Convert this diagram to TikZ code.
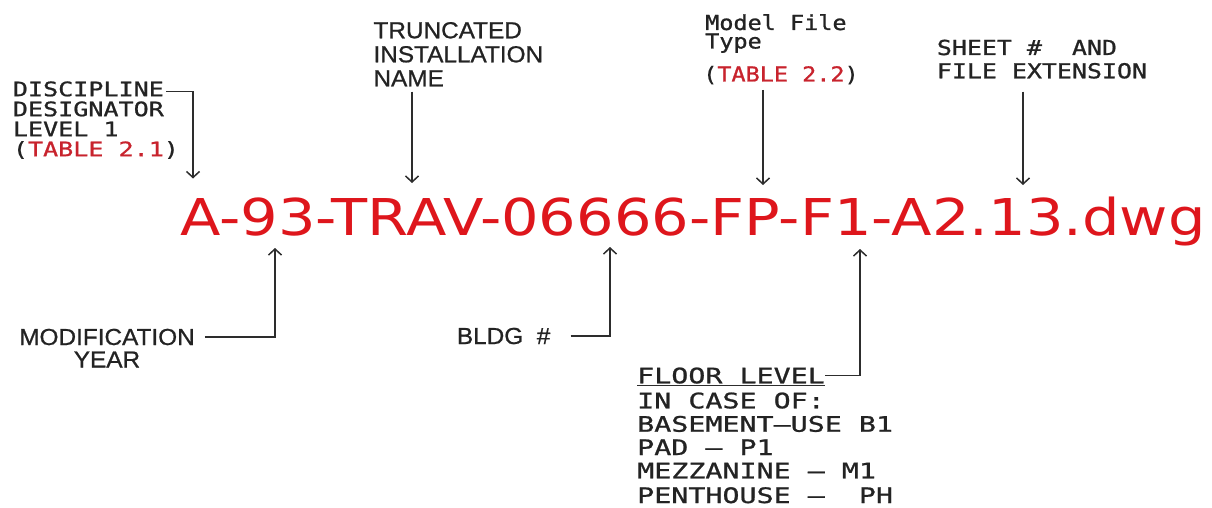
\documentclass[tikz,border=0pt]{standalone}
\usepackage{fontspec}
\usetikzlibrary{arrows.meta}
\newfontfamily\redfont{DejaVu Sans}[FakeStretch=1.164]
\newfontfamily\arialf{Liberation Sans}[FakeStretch=1.05, FakeBold=0.8]
\newfontfamily\cadA{DejaVu Sans Mono}[FakeStretch=1.26, FakeBold=1.0]
\newfontfamily\cadB{DejaVu Sans Mono}[FakeStretch=1.14, FakeBold=1.0]
\newfontfamily\cadC{DejaVu Sans Mono}[FakeStretch=1.21, FakeBold=1.0]
\newfontfamily\cadD{DejaVu Sans Mono}[FakeStretch=1.33, FakeBold=1.0]
\definecolor{mainred}{RGB}{222,22,28}
\definecolor{tabred}{RGB}{200,35,45}
\definecolor{ink}{RGB}{35,35,35}
\definecolor{lineink}{RGB}{45,45,45}
\tikzset{
  lbl/.style={anchor=base west, inner sep=0pt, text=ink},
  lblc/.style={anchor=base, inner sep=0pt, text=ink},
  arr/.style={draw=lineink, line width=1.5pt, -{Straight Barb[length=6pt,width=13pt,line width=1.5pt]}},
  plainline/.style={draw=lineink, line width=1.4pt},
  fA/.style={font=\cadA\fontsize{19.9}{20}\selectfont},
  fB/.style={font=\cadB\fontsize{20.6}{20}\selectfont},
  fC/.style={font=\cadC\fontsize{20.6}{20}\selectfont},
  fD/.style={font=\cadD\fontsize{21.3}{20}\selectfont},
  fS/.style={font=\arialf\fontsize{23.2}{24}\selectfont},
}
\begin{document}
\begin{tikzpicture}[x=1pt,y=-1pt]
\fill[white] (0,0) rectangle (1212,508);
\path[use as bounding box] (0,0) rectangle (1212,508);

% main file name
\node[anchor=base west, inner sep=0pt, text=mainred, font=\redfont\fontsize{50.75}{55}\selectfont] (code) at (180,235) {A-93-TRAV-06666-FP-F1-A2.13.dwg};

% target points on the file name
\coordinate (t1) at (193,178.5);
\coordinate (t2) at (412,183);
\coordinate (t3) at (763,185);
\coordinate (t4) at (1023,185);
\coordinate (u1) at (275,248);
\coordinate (u2) at (610,247);
\coordinate (u3) at (860,249);

% discipline designator
\node[lbl, fA] (d1) at (12.7,96.2) {DISCIPLINE};
\node[lbl, fA] (d2) at (12.7,116.2) {DESIGNATOR};
\node[lbl, fA] (d3) at (12.7,136.2) {LEVEL 1};
\node[lbl, fA] (d4) at (12.7,156.2) {(\textcolor{tabred}{TABLE 2.1})};

% truncated installation name
\node[lbl, fS] (n1) at (373.3,38.3) {TRUNCATED};
\node[lbl, fS] (n2) at (373.3,62.3) {INSTALLATION};
\node[lbl, fS] (n3) at (373.3,86.3) {NAME};

% model file type
\node[lbl, fB] (m1) at (705,30) {Model File};
\node[lbl, fB] (m2) at (705,48.5) {Type};
\node[lbl, fB] (m3) at (703,81.5) {(\textcolor{tabred}{TABLE 2.2})};

% sheet number
\node[lbl, fC] (s1) at (936.7,55) {SHEET \#~~AND};
\node[lbl, fC] (s2) at (936.7,78.3) {FILE EXTENSION};

% modification year
\node[lblc, fS] (y1) at (107,345) {MODIFICATION};
\node[lblc, fS] (y2) at (107,367.5) {YEAR};

% building number
\node[lbl, fS] (b1) at (456.7,344) {BLDG~~\#};

% floor level
\node[lbl, fD] (f1) at (637,383.3) {FLOOR LEVEL};
\node[lbl, fD] (f2) at (637,408.3) {IN CASE OF:};
\node[lbl, fD] (f3) at (637,431.7) {BASEMENT—USE B1};
\node[lbl, fD] (f4) at (637,455) {PAD — P1};
\node[lbl, fD] (f5) at (637,478.3) {MEZZANINE — M1};
\node[lbl, fD] (f6) at (637,503) {PENTHOUSE —~~PH};
\draw[plainline, line width=1.2pt] ([yshift=-2.5pt]f1.base west) -- ([yshift=-2.5pt]f1.base east);

% connectors from above
\draw[arr] ([xshift=2pt,yshift=-2.5pt]d1.east) -| (t1);
\draw[arr, shorten <=5.4pt] (n3.base -| t2) -- (t2);
\draw[arr, shorten <=8.5pt] (m3.base -| t3) -- (t3);
\draw[arr, shorten <=13.4pt] (s2.base -| t4) -- (t4);

% connectors from below
\draw[arr] ([xshift=10pt]y1.east) -| (u1);
\draw[arr] ([xshift=20pt]b1.east) -| (u2);
\draw[arr] (f1.east) -| (u3);
\end{tikzpicture}
\end{document}
